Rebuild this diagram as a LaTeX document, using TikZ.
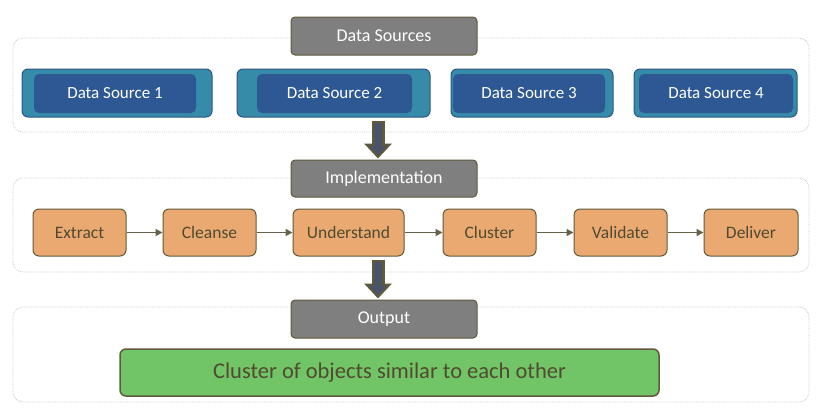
\documentclass[tikz,border=0pt]{standalone}
\usepackage{fontspec}
\setmainfont{Carlito}
\usetikzlibrary{arrows.meta,calc}
\definecolor{olive}{HTML}{5F5A3A}
\definecolor{titlegray}{HTML}{7F7F7F}
\definecolor{teal}{HTML}{368BA9}
\definecolor{dsblue}{HTML}{2D5893}
\definecolor{dsedge}{HTML}{2F5587}
\definecolor{orangefill}{HTML}{EBA972}
\definecolor{greenfill}{HTML}{72C567}
\definecolor{framegray}{HTML}{C8C8C8}
\definecolor{txtdark}{HTML}{504A30}
\definecolor{arrowin}{HTML}{4A5468}
\tikzset{
  container/.style={draw=framegray, densely dotted, line width=0.8pt, rounded corners=10pt, inner sep=0pt},
  titlebox/.style={draw=olive, fill=titlegray, line width=1pt, rounded corners=4pt, minimum width=186pt, minimum height=38pt, inner sep=0pt, text=white, font=\fontsize{18}{21}\selectfont},
  dsouter/.style={draw=dsedge, fill=teal, line width=1pt, rounded corners=6pt, minimum height=48pt, inner sep=0pt},
  dsinner/.style={fill=dsblue, rounded corners=5pt, minimum height=39pt, inner sep=0pt, text=white, font=\fontsize{17}{20}\selectfont},
  stepbox/.style={draw=olive, fill=orangefill, line width=1pt, rounded corners=6pt, minimum width=93pt, minimum height=47pt, inner sep=0pt, text=txtdark, font=\fontsize{17.5}{20}\selectfont},
  flow/.style={draw=olive!80!gray, line width=1.6pt, -{Triangle[width=7pt,length=7pt]}},
  bigarrow/.style={draw=olive, line width=13pt, -{Triangle[width=27pt,length=15pt]}},
  biginner/.style={draw=arrowin, line width=8pt, shorten >=3pt, shorten <=2pt, -{Triangle[width=18pt,length=10pt]}},
  outbox/.style={draw=olive, fill=greenfill, line width=1.5pt, rounded corners=6pt, inner sep=0pt, text=txtdark, font=\fontsize{22.5}{26}\selectfont},
}
\begin{document}
\begin{tikzpicture}[x=1pt,y=-1pt]
\useasboundingbox (0,0) rectangle (826,413);
% containers
\node[container, minimum width=796pt, minimum height=94pt] (c1) at (411,85) {};
\node[container, minimum width=796pt, minimum height=94pt] (c2) at (411,225) {};
\node[container, minimum width=796pt, minimum height=95pt] (c3) at (411,354.5) {};
% titles
\node[titlebox] (src) at (384,36) {Data Sources};
\node[titlebox, minimum height=37pt] (impl) at (384,178.5) {Implementation};
\node[titlebox] (out) at (384,319) {Output};
% data sources
\node[dsouter, minimum width=190pt] (ds1o) at (117,93) {};
\node[dsinner, minimum width=162pt] (ds1) at (115,93.5) {Data Source 1};
\node[dsouter, minimum width=193pt] (ds2o) at (333.5,93) {};
\node[dsinner, minimum width=155pt] (ds2) at (334.5,93.5) {Data Source 2};
\node[dsouter, minimum width=162pt] (ds3o) at (532,93) {};
\node[dsinner, minimum width=152pt] (ds3) at (529,93.5) {Data Source 3};
\node[dsouter, minimum width=163pt] (ds4o) at (715.5,93) {};
\node[dsinner, minimum width=154pt] (ds4) at (716,93.5) {Data Source 4};
% steps
\node[stepbox] (extract) at (79.5,232.5) {Extract};
\node[stepbox] (cleanse) at (209.5,232.5) {Cleanse};
\node[stepbox, minimum width=111pt] (understand) at (348.5,232.5) {Understand};
\node[stepbox] (cluster) at (489.5,232.5) {Cluster};
\node[stepbox] (validate) at (620.5,232.5) {Validate};
\node[stepbox, minimum width=94pt] (deliver) at (751,232.5) {Deliver};
\draw[flow] (extract) -- (cleanse);
\draw[flow] (cleanse) -- (understand);
\draw[flow] (understand) -- (cluster);
\draw[flow] (cluster) -- (validate);
\draw[flow] (validate) -- (deliver);
% output
\node[outbox, minimum width=539pt, minimum height=47pt] (result) at (389.5,372.5) {Cluster of objects similar to each other};
% big arrows
\coordinate (a1s) at ($(ds2o.south -| 378,0)+(0,3)$);
\coordinate (a1e) at ($(impl.north -| 378,0)+(0,-1)$);
\draw[bigarrow] (a1s) -- (a1e);
\draw[biginner] (a1s) -- (a1e);
\coordinate (a2s) at ($(understand.south -| 378,0)+(0,3)$);
\coordinate (a2e) at ($(out.north -| 378,0)+(0,-1)$);
\draw[bigarrow] (a2s) -- (a2e);
\draw[biginner] (a2s) -- (a2e);
\end{tikzpicture}
\end{document}
